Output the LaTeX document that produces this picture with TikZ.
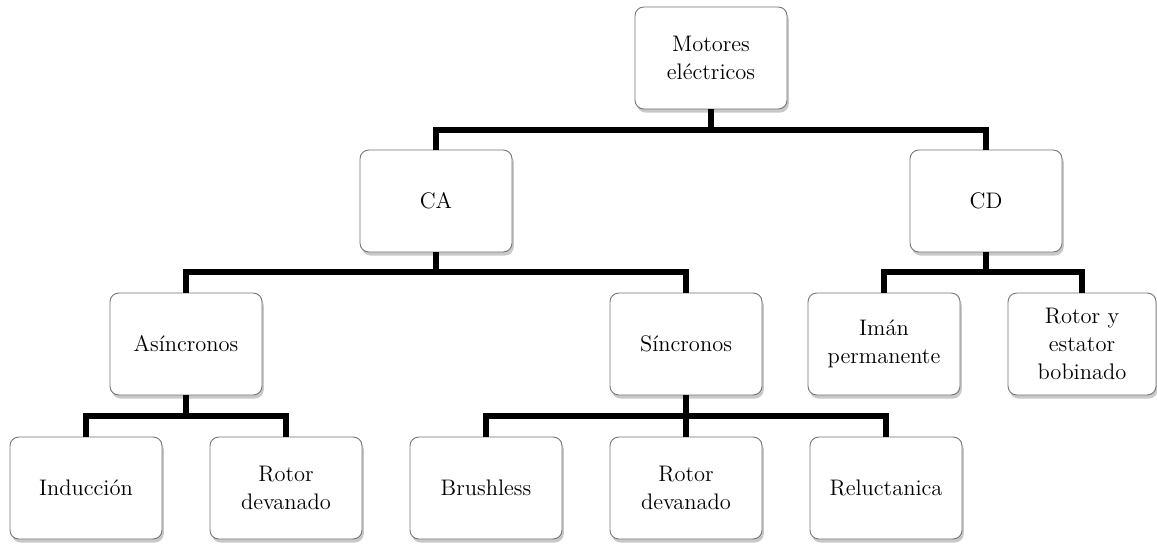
\documentclass[tikz,border=0pt]{standalone}
\usetikzlibrary{shadows,calc}
\begin{document}
\begin{tikzpicture}[x=0.02cm,y=-0.02cm,
  box/.style={draw=black!55,line width=0.5pt,fill=white,rounded corners=5pt,
    minimum width=152*0.02cm,minimum height=102*0.02cm,inner sep=2pt,
    align=center,font=\fontsize{12.8}{16}\selectfont,text=black,
    drop shadow={opacity=0.3,shadow xshift=1pt,shadow yshift=-2pt,fill=black!70}},
  conn/.style={line width=3.3pt,line join=miter}]
\useasboundingbox (0,0) rectangle (1157,544);
\node[box] (mot) at (711,58) {Motores\\eléctricos};
\node[box] (ca) at (436,201) {CA};
\node[box] (cd) at (986,201) {CD};
\node[box] (asi) at (186,344) {Asíncronos};
\node[box] (sin) at (686,344) {Síncronos};
\node[box] (iman) at (884,344) {Imán\\permanente};
\node[box,minimum width=148*0.02cm] (rye) at (1082,344) {Rotor y\\estator\\bobinado};
\node[box] (ind) at (86,488) {Inducción};
\node[box] (rd1) at (286,488) {Rotor\\devanado};
\node[box] (bru) at (486,488) {Brushless};
\node[box] (rd2) at (686,488) {Rotor\\devanado};
\node[box] (rel) at (886,488) {Reluctanica};
\coordinate (b1) at (0,130);
\coordinate (b2) at (0,272);
\coordinate (b3) at (0,416);
% level 1
\draw[conn] (mot.south) -- (mot.south |- b1);
\draw[conn] (ca.north) -- (ca.north |- b1) -- (cd.north |- b1) -- (cd.north);
% level 2
\draw[conn] (ca.south) -- (ca.south |- b2);
\draw[conn] (asi.north) -- (asi.north |- b2) -- (sin.north |- b2) -- (sin.north);
\draw[conn] (cd.south) -- (cd.south |- b2);
\draw[conn] (iman.north) -- (iman.north |- b2) -- (rye.north |- b2) -- (rye.north);
% level 3
\draw[conn] (asi.south) -- (asi.south |- b3);
\draw[conn] (ind.north) -- (ind.north |- b3) -- (rd1.north |- b3) -- (rd1.north);
\draw[conn] (sin.south) -- (sin.south |- b3);
\draw[conn] (bru.north) -- (bru.north |- b3) -- (rel.north |- b3) -- (rel.north);
\draw[conn] (rd2.north) -- (rd2.north |- b3);
\end{tikzpicture}
\end{document}
